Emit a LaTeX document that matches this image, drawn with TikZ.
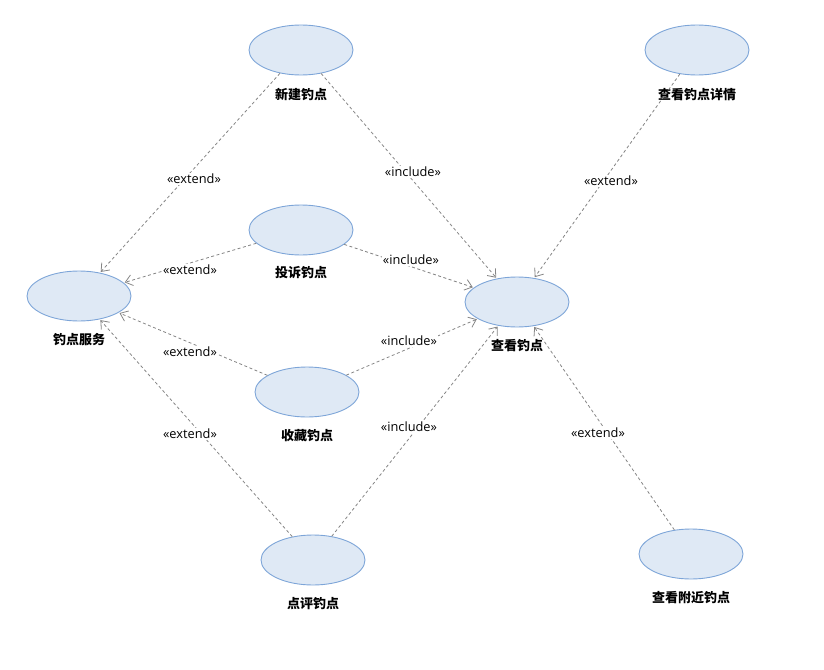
\documentclass[tikz,border=0pt]{standalone}
\usepackage{fontspec}
\setmainfont{Open Sans}
\newfontfamily\cjk{Noto Sans CJK SC}
\usetikzlibrary{arrows.meta,shapes.geometric}
\definecolor{ucfill}{HTML}{DFE9F5}
\definecolor{ucline}{HTML}{7DA5D8}
\definecolor{linkgray}{HTML}{858585}
\tikzset{
  usecase/.style={ellipse, draw=ucline, fill=ucfill, line width=0.9pt,
    minimum width=104pt, minimum height=50pt, inner sep=0pt},
  uclabel/.style={font=\cjk\bfseries\fontsize{13}{15}\selectfont, inner sep=0pt},
  stereo/.style={font=\fontsize{12.8}{14}\selectfont, inner sep=1pt, fill=white},
  dep/.style={draw=linkgray, line width=0.8pt, dash pattern=on 3pt off 2.5pt,
    -{Straight Barb[length=7pt,width=11pt,line width=0.8pt]}, shorten >=1pt}
}
\begin{document}
\begin{tikzpicture}[x=1pt,y=-1pt]
\useasboundingbox (0,0) rectangle (824,669);

% use cases
\node[usecase] (create)  at (301,50)  {};
\node[usecase] (detail)  at (697,50)  {};
\node[usecase] (report)  at (301,230) {};
\node[usecase] (service) at (79,296)  {};
\node[usecase] (view)    at (517,302) {};
\node[usecase] (fav)     at (307,392) {};
\node[usecase] (review)  at (313,560) {};
\node[usecase] (nearby)  at (691,554) {};

% captions under the use cases
\node[uclabel] (createL)  at (301,95)  {新建钓点};
\node[uclabel] (detailL)  at (697,95)  {查看钓点详情};
\node[uclabel] (reportL)  at (301,273) {投诉钓点};
\node[uclabel] (serviceL) at (79,340)  {钓点服务};
\node[uclabel] (viewL)    at (517,346) {查看钓点};
\node[uclabel] (favL)     at (307,436) {收藏钓点};
\node[uclabel] (reviewL)  at (313,604) {点评钓点};
\node[uclabel] (nearbyL)  at (691,598) {查看附近钓点};

% dependencies
\draw[dep] (create) -- (service);
\draw[dep] (create) -- (view);
\draw[dep] (detail) -- (view);
\draw[dep] (report) -- (service);
\draw[dep] (report) -- (view);
\draw[dep] (fav) -- (service);
\draw[dep] (fav) -- (view);
\draw[dep] (review) -- (service);
\draw[dep] (review) -- (view);
\draw[dep] (nearby) -- (view);

% stereotypes
\node[stereo] (s1)  at (194,179) {«extend»};
\node[stereo] (s2)  at (413,172) {«include»};
\node[stereo] (s3)  at (611,181) {«extend»};
\node[stereo] (s4)  at (190,270) {«extend»};
\node[stereo] (s5)  at (411,260) {«include»};
\node[stereo] (s6)  at (190,352) {«extend»};
\node[stereo] (s7)  at (409,341) {«include»};
\node[stereo] (s8)  at (190,434) {«extend»};
\node[stereo] (s9)  at (409,427) {«include»};
\node[stereo] (s10) at (598,433) {«extend»};
\end{tikzpicture}
\end{document}
